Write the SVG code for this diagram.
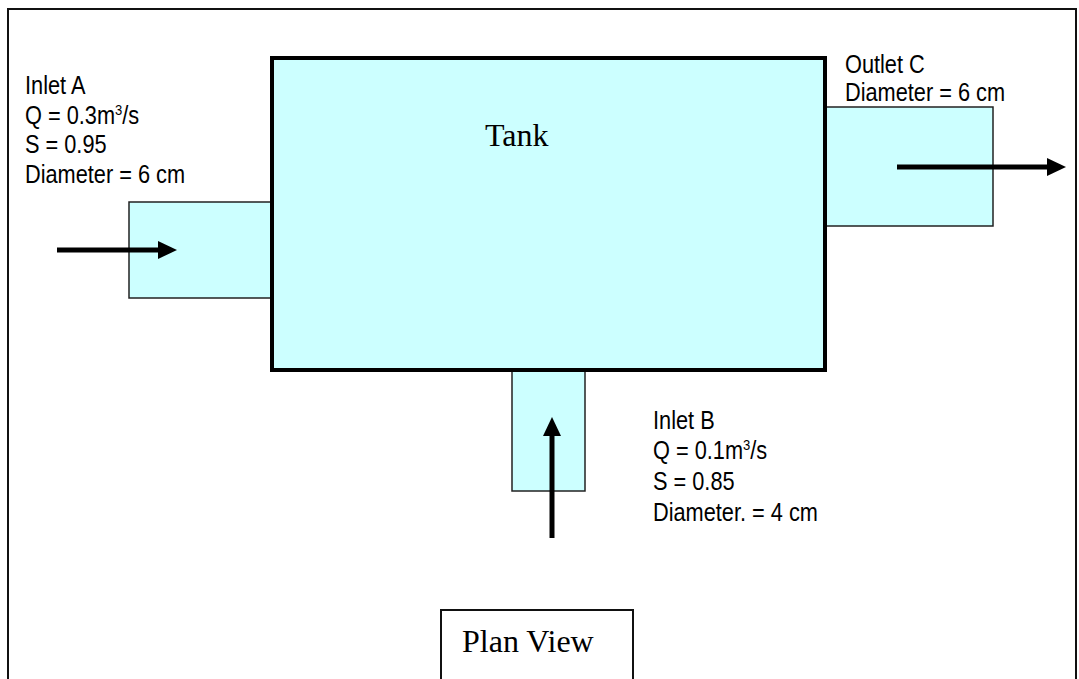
<svg xmlns="http://www.w3.org/2000/svg" width="1079" height="679" viewBox="0 0 1079 679">
<style>
.pipe{fill:#CCFFFF;stroke:#222;stroke-width:1.5}
.tank{fill:#CCFFFF;stroke:#000;stroke-width:4}
.lbl{font-family:"Liberation Sans",Arial,sans-serif;font-size:25px;fill:#000}
.serif{font-family:"Liberation Serif","Times New Roman",serif;font-size:32px;fill:#000}
.arrow{stroke:#000;stroke-width:5;fill:none;marker-end:url(#head)}
</style>
<defs>
<marker id="head" markerUnits="userSpaceOnUse" markerWidth="20" markerHeight="20" refX="0" refY="9" orient="auto" overflow="visible">
<path d="M0,0 L19,9 L0,18 z" fill="#000"/>
</marker>
</defs>
<rect width="1079" height="679" fill="#fff"/>
<rect id="frame" x="8" y="9" width="1068" height="690" fill="none" stroke="#111" stroke-width="2"/>
<g id="inletA">
<rect class="pipe" x="129" y="202" width="145" height="96"/>
<g transform="translate(25,0) scale(0.87,1)">
<text class="lbl" x="0" y="94">Inlet A</text>
<text class="lbl" x="0" y="124">Q = 0.3m<tspan font-size="15" dy="-9">3</tspan><tspan dy="9">/s</tspan></text>
<text class="lbl" x="0" y="153">S = 0.95</text>
<text class="lbl" x="0" y="183">Diameter = 6 cm</text>
</g>
</g>
<g id="outletC">
<rect class="pipe" x="824" y="107" width="169" height="119"/>
<g transform="translate(845,0) scale(0.87,1)">
<text class="lbl" x="0" y="73">Outlet C</text>
<text class="lbl" x="0" y="101">Diameter = 6 cm</text>
</g>
</g>
<g id="inletB">
<rect class="pipe" x="512" y="368" width="73" height="123"/>
<g transform="translate(653,0) scale(0.87,1)">
<text class="lbl" x="0" y="429">Inlet B</text>
<text class="lbl" x="0" y="459">Q = 0.1m<tspan font-size="15" dy="-9">3</tspan><tspan dy="9">/s</tspan></text>
<text class="lbl" x="0" y="490">S = 0.85</text>
<text class="lbl" x="0" y="521">Diameter. = 4 cm</text>
</g>
</g>
<g id="tank">
<rect class="tank" x="272" y="58" width="553" height="312"/>
<text class="serif" x="485" y="146">Tank</text>
</g>
<g id="connectors">
<line class="arrow" x1="57" y1="250" x2="158" y2="250"/>
<line class="arrow" x1="897" y1="167" x2="1047" y2="167"/>
<line class="arrow" x1="552" y1="538" x2="552" y2="436"/>
</g>
<g id="planView">
<rect x="441" y="610" width="192" height="90" fill="#fff" stroke="#111" stroke-width="2"/>
<text class="serif" x="462" y="652">Plan View</text>
</g>
</svg>
